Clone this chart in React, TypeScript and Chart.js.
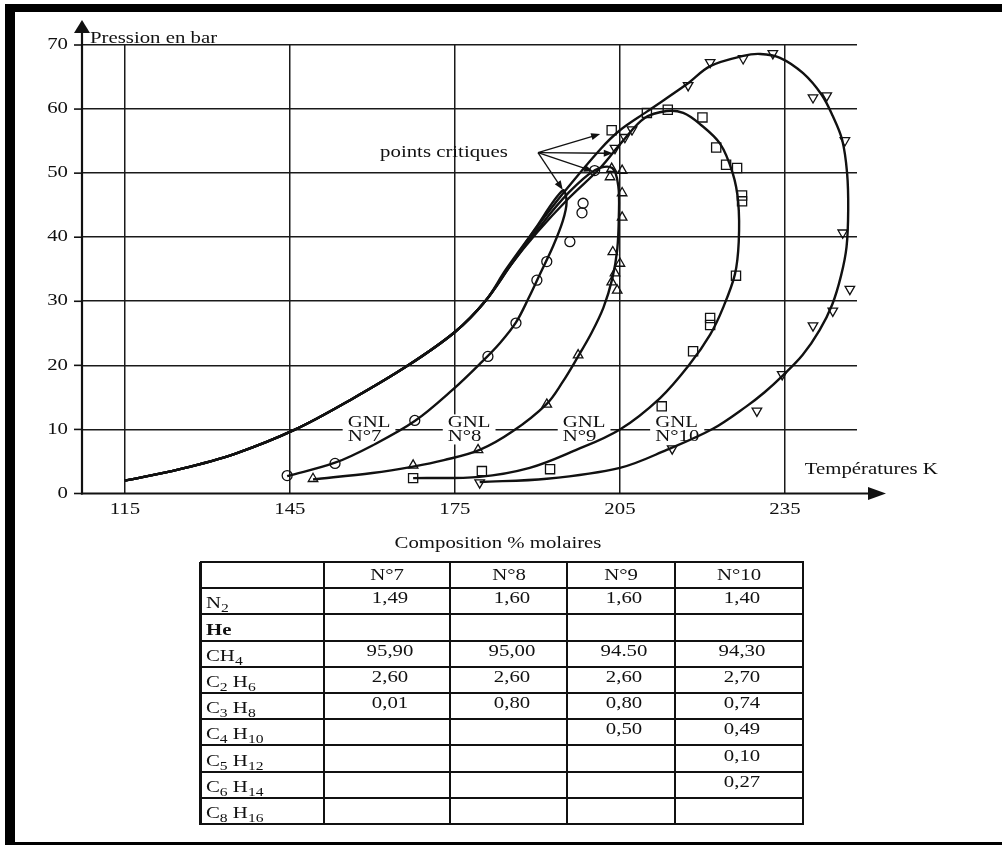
import React, { useEffect, useRef } from 'react';
import { Chart, registerables } from 'chart.js';

Chart.register(...registerables);

// ---------- axes ----------
const X_TICKS = [115, 145, 175, 205, 235];
const Y_TICKS = [0, 10, 20, 30, 40, 50, 60, 70];
const X_MIN = 107.2;
const X_MAX = 248.1;
const Y_MIN = 0;
const Y_MAX = 70;
const X_TITLE = 'Températures K';
const Y_TITLE = 'Pression en bar';

// ---------- phase envelopes (T in K, P in bar) ----------
// low-temperature branch shared by the four bubble curves
const BASE_T = [115, 125, 135, 146, 156, 166.5, 175, 180.5];
const BASE_P = [2.0, 3.8, 6.2, 10.0, 14.6, 20.0, 25.2, 30.0];

const ENV7_T = [...BASE_T, 185.0, 189.5, 194.6, 195.3, 194.6, 192.8, 190.6, 188.4, 186.1, 183.2, 179.5, 174.6, 167.7, 160.0, 153.2, 144.5];
const ENV7_P = [...BASE_P, 35.5, 41.2, 47.3, 45.5, 42.5, 38.5, 34.5, 30.5, 26.7, 23.5, 20.2, 16.2, 11.3, 7.5, 4.8, 2.7];

const ENV8_T = [...BASE_T, 185.3, 190.3, 195.5, 200.5, 203.6, 204.7, 204.8, 204.5, 203.6, 202.0, 199.8, 197.4, 194.5, 191.7, 185.5, 179.5, 173.0, 167.4, 160.0, 149.2];
const ENV8_P = [...BASE_P, 35.8, 41.5, 46.8, 50.5, 50.8, 48.0, 43.1, 38.0, 33.5, 29.0, 25.0, 21.4, 17.3, 14.0, 9.7, 6.8, 5.2, 4.2, 3.2, 2.2];

const ENV9_T = [...BASE_T, 184.8, 190.0, 195.6, 201.4, 205.5, 209.5, 213.5, 216.5, 219.5, 223.2, 225.5, 226.5, 226.6, 225.9, 223.7, 221.4, 217.7, 212.3, 205.0, 196.5, 188.6, 179.5, 167.4];
const ENV9_P = [...BASE_P, 35.3, 40.8, 46.0, 50.8, 55.0, 58.6, 59.7, 59.4, 57.7, 54.6, 50.0, 45.5, 39.3, 34.2, 28.9, 24.8, 20.2, 14.9, 10.0, 6.6, 4.0, 2.6, 2.4];

const ENV10_T = [...BASE_T, 184.3, 189.3, 195.0, 201.4, 205.0, 209.9, 217.2, 221.4, 227.4, 230.5, 234.1, 238.3, 241.7, 243.7, 245.4, 246.3, 246.5, 246.2, 245.2, 243.6, 241.3, 238.2, 234.6, 231.3, 228.0, 221.9, 213.5, 205.0, 191.7, 179.5];
const ENV10_P = [...BASE_P, 35.0, 40.9, 47.2, 53.7, 56.7, 59.6, 63.9, 66.7, 68.3, 68.6, 68.0, 65.6, 62.2, 58.9, 55.2, 50.0, 44.3, 38.5, 34.0, 29.5, 25.5, 21.6, 18.4, 15.8, 13.6, 10.1, 6.8, 4.0, 2.3, 1.8];

// ---------- measured points ----------
const PTS7_T = [144.5, 153.2, 167.7, 181.0, 186.1, 189.9, 191.7, 195.9, 198.1, 198.3, 200.4];
const PTS7_P = [2.8, 4.7, 11.4, 21.4, 26.6, 33.3, 36.2, 39.3, 43.8, 45.3, 50.4];

const PTS8_T = [149.2, 167.4, 179.2, 191.7, 197.4, 203.5, 204.5, 204.1, 205.0, 203.7, 205.4, 205.4, 203.2, 205.4, 203.5];
const PTS8_P = [2.3, 4.4, 6.8, 13.9, 21.6, 33.0, 31.7, 34.4, 35.9, 37.7, 43.1, 46.9, 49.4, 50.4, 50.7];

const PTS9_T = [167.4, 179.9, 192.3, 212.6, 218.3, 221.4, 221.4, 226.1, 227.2, 227.2, 226.3, 224.3, 222.5, 220.0, 213.7, 209.9, 203.5];
const PTS9_P = [2.4, 3.5, 3.8, 13.6, 22.2, 27.4, 26.3, 34.0, 45.6, 46.5, 50.8, 51.3, 54.0, 58.7, 59.9, 59.4, 56.7];

const PTS10_T = [179.5, 214.5, 229.9, 234.5, 240.1, 243.7, 246.8, 245.5, 245.9, 242.6, 240.1, 232.8, 227.4, 221.4, 217.4, 207.2, 205.9, 204.1];
const PTS10_P = [1.7, 7.0, 12.9, 18.6, 26.2, 28.5, 31.9, 40.7, 55.1, 62.1, 61.8, 68.7, 67.9, 67.3, 63.7, 56.8, 55.6, 53.9];

// ---------- annotations ----------
const GNL_NAMES = ['N°7', 'N°8', 'N°9', 'N°10'];
const GNL_LABEL_T = [155.5, 173.7, 194.6, 211.4];
const GNL_LINE1_P = 11.1;
const GNL_LINE2_P = 8.9;

const CRIT_LABEL = 'points critiques';
const CRIT_LABEL_T = 161.4;
const CRIT_LABEL_P = 53.2;
const CRIT_FROM_T = 190.1;
const CRIT_FROM_P = 53.2;
const CRIT_T = [201.4, 203.7, 200.1, 194.6];
const CRIT_P = [56.1, 53.1, 50.3, 47.4];

// ---------- composition table ----------
const TABLE_TITLE = 'Composition % molaires';
const TABLE_HEADERS = ['N°7', 'N°8', 'N°9', 'N°10'];
const COMPONENTS = ['N_2', 'He', 'CH_4', 'C_2 H_6', 'C_3 H_8', 'C_4 H_10', 'C_5 H_12', 'C_6 H_14', 'C_8 H_16'];
const COMP_N7 = ['1,49', '', '95,90', '2,60', '0,01', '', '', '', ''];
const COMP_N8 = ['1,60', '', '95,00', '2,60', '0,80', '', '', '', ''];
const COMP_N9 = ['1,60', '', '94.50', '2,60', '0,80', '0,50', '', '', ''];
const COMP_N10 = ['1,40', '', '94,30', '2,70', '0,74', '0,49', '0,10', '0,27', ''];
const COMP_COLUMNS = [COMP_N7, COMP_N8, COMP_N9, COMP_N10];

// table layout (page pixels)
const TABLE_COL_X = [200, 324, 450, 567, 675, 803];
const TABLE_ROW_Y = [562, 588, 614, 641, 667, 693, 719, 745, 772, 798, 824];

const INK = '#111';
const FONT = '"Liberation Serif", "Times New Roman", serif';
const SX = 1.3; // wide print face

const pts = (t: number[], p: number[]) => t.map((v, i) => ({ x: v, y: p[i] }));

function drawText(ctx: CanvasRenderingContext2D, str: string, x: number, y: number, align: CanvasTextAlign, size = 16) {
  ctx.save();
  ctx.font = `${size}px ${FONT}`;
  ctx.fillStyle = INK;
  ctx.textBaseline = 'middle';
  ctx.textAlign = align;
  ctx.translate(x, y);
  ctx.scale(SX, 1);
  ctx.fillText(str, 0, 0);
  ctx.restore();
}

function drawArrow(ctx: CanvasRenderingContext2D, x0: number, y0: number, x1: number, y1: number, head: number, half: number, width: number) {
  const a = Math.atan2(y1 - y0, x1 - x0);
  const c = Math.cos(a);
  const s = Math.sin(a);
  ctx.lineWidth = width;
  ctx.beginPath();
  ctx.moveTo(x0, y0);
  ctx.lineTo(x1 - head * 0.7 * c, y1 - head * 0.7 * s);
  ctx.stroke();
  ctx.beginPath();
  ctx.moveTo(x1, y1);
  ctx.lineTo(x1 - head * c + half * s, y1 - head * s - half * c);
  ctx.lineTo(x1 - head * c - half * s, y1 - head * s + half * c);
  ctx.closePath();
  ctx.fill();
}

const annotate = {
  id: 'annotate',
  beforeDatasetsDraw(chart: any) {
    const { ctx, scales } = chart;
    const x = scales.x;
    const y = scales.y;
    ctx.save();
    ctx.font = `16px ${FONT}`;
    GNL_NAMES.forEach((name, i) => {
      const px = x.getPixelForValue(GNL_LABEL_T[i]);
      const y1 = y.getPixelForValue(GNL_LINE1_P);
      const y2 = y.getPixelForValue(GNL_LINE2_P);
      const w = Math.max(ctx.measureText('GNL').width, ctx.measureText(name).width) * SX;
      ctx.fillStyle = '#fff';
      ctx.fillRect(px - 5, y1 - 8, w + 10, y2 - y1 + 16);
      drawText(ctx, 'GNL', px, y1, 'left');
      drawText(ctx, name, px, y2, 'left');
    });
    ctx.restore();
  },
  afterDatasetsDraw(chart: any) {
    const { ctx, scales } = chart;
    const x = scales.x;
    const y = scales.y;
    ctx.save();
    ctx.strokeStyle = INK;
    ctx.fillStyle = INK;
    drawText(ctx, CRIT_LABEL, x.getPixelForValue(CRIT_LABEL_T), y.getPixelForValue(CRIT_LABEL_P), 'left');
    const fx = x.getPixelForValue(CRIT_FROM_T);
    const fy = y.getPixelForValue(CRIT_FROM_P);
    CRIT_T.forEach((t, i) => {
      drawArrow(ctx, fx, fy, x.getPixelForValue(t), y.getPixelForValue(CRIT_P[i]), 9, 3.5, 1.3);
    });
    ctx.restore();
  },
  afterDraw(chart: any) {
    const { ctx, scales, chartArea } = chart;
    const x = scales.x;
    const y = scales.y;
    const left = chartArea.left;
    const bottom = chartArea.bottom;
    ctx.save();
    ctx.strokeStyle = INK;
    ctx.fillStyle = INK;
    // axes with arrow heads
    drawArrow(ctx, left, bottom + 1, left, chartArea.top - 25, 13, 8, 2.2);
    drawArrow(ctx, left - 1, bottom, chartArea.right + 29, bottom, 18, 6.5, 2.2);
    // tick marks and labels
    ctx.lineWidth = 1.6;
    Y_TICKS.forEach((v) => {
      const py = y.getPixelForValue(v);
      ctx.beginPath();
      ctx.moveTo(left - 8, py);
      ctx.lineTo(left, py);
      ctx.stroke();
      drawText(ctx, String(v), left - 14, py, 'right');
    });
    X_TICKS.forEach((v) => {
      drawText(ctx, String(v), x.getPixelForValue(v), bottom + 16, 'center');
    });
    // axis titles
    drawText(ctx, Y_TITLE, left + 8, chartArea.top - 6, 'left');
    drawText(ctx, X_TITLE, x.getPixelForValue(238.6), y.getPixelForValue(3.7), 'left');
    ctx.restore();
  },
};

function SubLabel({ text }: { text: string }) {
  const parts = text.split(/_(\d+)/);
  return (
    <>
      {parts.map((p, i) =>
        i % 2 ? (
          <sub key={i} style={{ fontSize: '12px', verticalAlign: '-4px', lineHeight: 0 }}>{p}</sub>
        ) : (
          <React.Fragment key={i}>{p}</React.Fragment>
        )
      )}
    </>
  );
}

const textStyle: React.CSSProperties = {
  position: 'absolute',
  whiteSpace: 'nowrap',
  fontFamily: FONT,
  fontSize: '16px',
  lineHeight: 1,
  color: INK,
};

function CompositionTable() {
  const items: React.ReactNode[] = [];
  const tl = TABLE_COL_X[0];
  const tr = TABLE_COL_X[TABLE_COL_X.length - 1];
  const tt = TABLE_ROW_Y[0];
  const tb = TABLE_ROW_Y[TABLE_ROW_Y.length - 1];
  TABLE_ROW_Y.forEach((ry, i) => {
    items.push(<div key={'h' + i} style={{ position: 'absolute', left: tl, top: ry - 1, width: tr - tl + 1, height: 2, background: INK }} />);
  });
  TABLE_COL_X.forEach((cx, i) => {
    items.push(<div key={'v' + i} style={{ position: 'absolute', left: cx - 1, top: tt, width: i === 0 ? 2.5 : 1.6, height: tb - tt + 1, background: INK }} />);
  });
  const center = (a: number, b: number) => (a + b) / 2;
  TABLE_HEADERS.forEach((h, c) => {
    items.push(
      <span key={'th' + c} style={{ ...textStyle, left: center(TABLE_COL_X[c + 1], TABLE_COL_X[c + 2]), top: center(TABLE_ROW_Y[0], TABLE_ROW_Y[1]), transform: 'translate(-50%, -50%) scaleX(1.3)' }}>{h}</span>
    );
  });
  COMPONENTS.forEach((comp, r) => {
    const cy = center(TABLE_ROW_Y[r + 1], TABLE_ROW_Y[r + 2]);
    items.push(
      <span key={'l' + r} style={{ ...textStyle, left: tl + 6, top: cy + 2, fontWeight: comp === 'He' ? 'bold' : 'normal', transformOrigin: 'left center', transform: 'translate(0, -50%) scaleX(1.3)' }}>
        <SubLabel text={comp} />
      </span>
    );
    COMP_COLUMNS.forEach((col, c) => {
      if (!col[r]) return;
      items.push(
        <span key={'c' + r + '-' + c} style={{ ...textStyle, left: center(TABLE_COL_X[c + 1], TABLE_COL_X[c + 2]) + 3, top: cy - 3, transform: 'translate(-50%, -50%) scaleX(1.3)' }}>{col[r]}</span>
      );
    });
  });
  return (
    <>
      <span style={{ ...textStyle, left: 498, top: 543, transform: 'translate(-50%, -50%) scaleX(1.3)' }}>{TABLE_TITLE}</span>
      {items}
    </>
  );
}

export default function App() {
  const canvasRef = useRef<HTMLCanvasElement | null>(null);

  useEffect(() => {
    const canvas = canvasRef.current;
    if (!canvas) return;
    const line = (t: number[], p: number[]) => ({
      data: pts(t, p),
      showLine: true,
      pointRadius: 0,
      borderColor: INK,
      borderWidth: 2.4,
      tension: 0.35,
      fill: false,
    });
    const marks = (t: number[], p: number[], style: string, radius: number, rotation = 0) => ({
      data: pts(t, p),
      showLine: false,
      pointStyle: style,
      pointRadius: radius,
      pointRotation: rotation,
      pointBorderWidth: 1.3,
      borderColor: INK,
      backgroundColor: 'rgba(255,255,255,0)',
    });
    const chart = new Chart(canvas, {
      type: 'scatter',
      data: {
        datasets: [
          marks(PTS7_T, PTS7_P, 'circle', 5),
          marks(PTS8_T, PTS8_P, 'triangle', 5.5),
          marks(PTS9_T, PTS9_P, 'rect', 6.5),
          marks(PTS10_T, PTS10_P, 'triangle', 5.5, 180),
          line(ENV7_T, ENV7_P),
          line(ENV8_T, ENV8_P),
          line(ENV9_T, ENV9_P),
          line(ENV10_T, ENV10_P),
        ] as any,
      },
      options: {
        animation: false,
        responsive: false,
        devicePixelRatio: 1,
        layout: { padding: { left: 82, right: 145, top: 45, bottom: 351.5 } },
        plugins: { legend: { display: false }, tooltip: { enabled: false } },
        scales: {
          x: {
            type: 'linear',
            min: X_MIN,
            max: X_MAX,
            afterBuildTicks: (s: any) => {
              s.ticks = X_TICKS.map((v) => ({ value: v }));
            },
            ticks: { display: false },
            grid: { drawTicks: false, color: '#1a1a1a', lineWidth: 1.5 },
            border: { display: false },
          },
          y: {
            type: 'linear',
            min: Y_MIN,
            max: Y_MAX,
            afterBuildTicks: (s: any) => {
              s.ticks = Y_TICKS.map((v) => ({ value: v }));
            },
            ticks: { display: false },
            grid: {
              drawTicks: false,
              lineWidth: 1.6,
              color: (c: any) => (c.tick && c.tick.value === 0 ? 'rgba(0,0,0,0)' : '#1a1a1a'),
            },
            border: { display: false },
          },
        },
      } as any,
      plugins: [annotate],
    });
    return () => chart.destroy();
  }, []);

  return (
    <div style={{ position: 'absolute', left: 0, top: 0, width: 1002, height: 845, background: '#fff', overflow: 'hidden' }}>
      <canvas ref={canvasRef} width={1002} height={845} style={{ position: 'absolute', left: 0, top: 0 }} />
      <div style={{ position: 'absolute', left: 5, top: 4, width: 997, height: 8, background: '#000' }} />
      <div style={{ position: 'absolute', left: 5, top: 4, width: 10, height: 841, background: '#000' }} />
      <div style={{ position: 'absolute', left: 5, top: 842, width: 997, height: 3, background: '#000' }} />
      <CompositionTable />
    </div>
  );
}
